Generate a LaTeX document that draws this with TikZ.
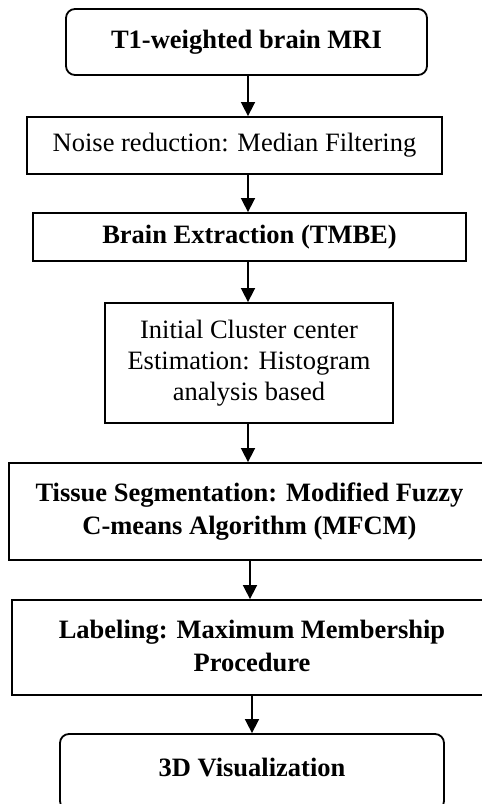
\documentclass[tikz,border=0pt]{standalone}
\usepackage{fontspec}
\setmainfont{Liberation Serif}
\usetikzlibrary{arrows.meta}
\begin{document}
\begin{tikzpicture}[x=1pt,y=-1pt,
  box/.style={draw=black,line width=1.8pt,rectangle,inner sep=0pt,align=center,
    font=\fontsize{26.5}{31}\selectfont},
  rbox/.style={box,rounded corners=9pt},
  arr/.style={line width=1.6pt,-{Triangle[width=14pt,length=14pt]}}]
\useasboundingbox (0,0) rectangle (482,804);
\clip (0,0) rectangle (482,804);
\coordinate (ax) at (248,0);
\coordinate (ax2) at (250,0);
\coordinate (ax3) at (252,0);
\node[rbox,minimum width=361pt,minimum height=66pt] (b1) at (246.5,42) {\bfseries T1-weighted brain MRI};
\node[box,minimum width=415pt,minimum height=57pt] (b2) at (234.5,145.5) {Noise reduction: Median Filtering};
\node[box,minimum width=433pt,minimum height=48pt] (b3) at (249.5,237) {\raisebox{-6pt}{\bfseries Brain Extraction (TMBE)}};
\node[box,minimum width=288pt,minimum height=120pt] (b4) at (249,363) {Initial Cluster center\\Estimation: Histogram\\analysis based};
\node[box,minimum width=481pt,minimum height=97pt,font=\fontsize{26.5}{33}\bfseries] (b5) at (249.5,511.5) {Tissue Segmentation: Modified Fuzzy\\C-means Algorithm (MFCM)};
\node[box,minimum width=480pt,minimum height=95pt,font=\fontsize{26.5}{33}\bfseries] (b6) at (252,647.5) {\raisebox{3pt}{Labeling: Maximum Membership}\\\raisebox{3pt}{Procedure}};
\node[rbox,minimum width=384pt,minimum height=76pt] (b7) at (252,772) {\raisebox{9pt}{\bfseries 3D Visualization}};
\draw[arr] (b1.south -| ax) -- (b2.north -| ax);
\draw[arr] (b2.south -| ax) -- (b3.north -| ax);
\draw[arr] (b3.south -| ax) -- (b4.north -| ax);
\draw[arr] (b4.south -| ax) -- (b5.north -| ax);
\draw[arr] (b5.south -| ax2) -- (b6.north -| ax2);
\draw[arr] (b6.south -| ax3) -- (b7.north -| ax3);
\end{tikzpicture}
\end{document}
